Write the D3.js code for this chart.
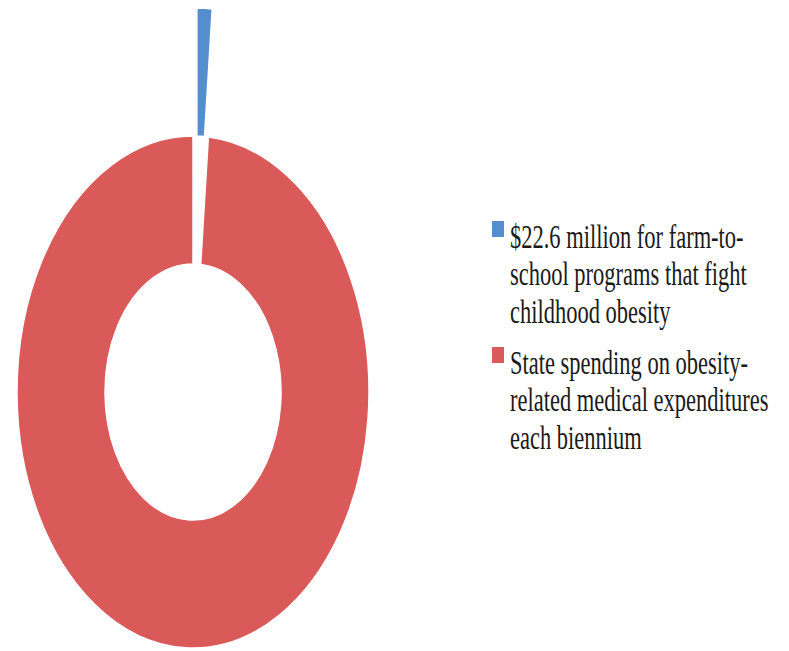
<!DOCTYPE html>
<html>
<head>
<meta charset="utf-8">
<script src="https://cdn.jsdelivr.net/npm/d3@7"></script>
<style>
  body { margin: 0; background: #fff; }
</style>
</head>
<body>
<div id="chart"></div>
<script>
// data (millions of dollars)
const categories = ["farm-to-school", "obesity medical"];
const values = [22.6, 1600];
const colors = ["#548ecd", "#d95a58"];
const legendLines = [
    ["$22.6 million for farm-to-", "school programs that fight", "childhood obesity"],
    ["State spending on obesity-", "related medical expenditures", "each biennium"]
];

const width = 789;
const height = 651;
const ky = 1.455;        // the picture is stretched vertically
const cx = 193, cy = 392;
const rOuter = 176, rInner = 88;
const explode = 88;

const svg = d3.select("#chart")
    .append("svg")
    .attr("width", width)
    .attr("height", height);

const g = svg.append("g")
    .attr("transform", `translate(${cx},${cy}) scale(1,${ky})`);

const pie = d3.pie().sort(null).value(d => d);
const arcs = pie(values);
const arc = d3.arc().innerRadius(rInner).outerRadius(rOuter);

g.selectAll("path")
    .data(arcs)
    .enter().append("path")
    .attr("d", arc)
    .attr("fill", (d, i) => colors[i])
    .attr("stroke", "#fff")
    .attr("stroke-width", 1.5)
    .attr("vector-effect", "non-scaling-stroke")
    .attr("transform", (d, i) => {
        if (i !== 0) return null;
        const a = (d.startAngle + d.endAngle) / 2;
        return `translate(${explode * Math.sin(a)},${-explode * Math.cos(a)})`;
    });

// legend
const leg = svg.append("g")
    .attr("transform", `scale(1,${ky})`)
    .style("font-family", "'Liberation Serif', serif")
    .style("font-size", "22.5px")
    .attr("fill", "#1a1a1a");

const lineH = 37.5 / ky;
const itemY = [248 / ky, 374 / ky];

legendLines.forEach((lines, i) => {
    leg.append("rect")
        .attr("x", 492)
        .attr("y", itemY[i] - 27 / ky)
        .attr("width", 12)
        .attr("height", 16 / ky)
        .attr("fill", colors[i]);
    lines.forEach((t, j) => {
        leg.append("text")
            .attr("x", 510)
            .attr("y", itemY[i] + j * lineH)
            .text(t);
    });
});
</script>
</body>
</html>
